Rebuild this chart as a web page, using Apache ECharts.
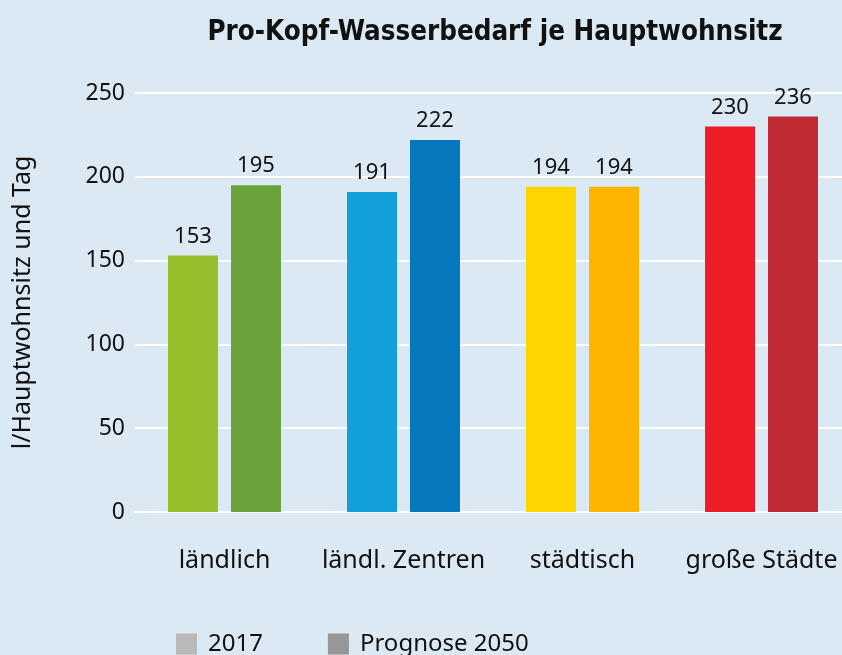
<!DOCTYPE html>
<html>
<head>
<meta charset="utf-8">
<script src="https://cdn.jsdelivr.net/npm/echarts@6/dist/echarts.min.js"></script>
<style>
  html, body { margin: 0; padding: 0; background: #dae9f4; }
  #chart { width: 842px; height: 655px; }
</style>
</head>
<body>
<div id="chart"></div>
<script>
// data
const categories = ['ländlich', 'ländl. Zentren', 'städtisch', 'große Städte'];
const values2017 = [153, 191, 194, 230];
const values2050 = [195, 222, 194, 236];
const colors2017 = ['#95bf2b', '#12a0da', '#ffd500', '#ec1c28'];
const colors2050 = ['#6ca23a', '#0777be', '#ffb400', '#c02a32'];
const yTicks = [0, 50, 100, 150, 200, 250];

const font = 'Noto Sans';
const chart = echarts.init(document.getElementById('chart'));

const barLabel = {
    show: true,
    position: 'top',
    distance: 8,
    fontFamily: font,
    fontSize: 22,
    color: '#111'
};

chart.setOption({
    backgroundColor: '#dae9f4',
    animation: false,
    title: {
        text: 'Pro-Kopf-Wasserbedarf je Hauptwohnsitz',
        left: 490,
        textAlign: 'center',
        top: 14,
        textStyle: {
            fontFamily: '"Liberation Sans Narrow", "DejaVu Sans Condensed", sans-serif',
            fontWeight: 'bold',
            fontSize: 27.5,
            color: '#111'
        }
    },
    legend: {
        left: 171,
        top: 627,
        itemWidth: 21,
        itemHeight: 21,
        itemGap: 65,
        icon: 'rect',
        textStyle: { fontFamily: font, fontSize: 24, color: '#111', padding: [0, 0, 0, 6] },
        data: ['2017', 'Prognose 2050']
    },
    grid: {
        left: 135,
        top: 93,
        width: 716,
        height: 419,
        outerBoundsMode: 'none',
        containLabel: false
    },
    xAxis: {
        type: 'category',
        data: categories,
        axisTick: { show: false },
        axisLine: { show: true, lineStyle: { color: '#ffffff', width: 2 } },
        axisLabel: { interval: 0, fontFamily: font, fontSize: 25, color: '#111', margin: 36 }
    },
    yAxis: {
        type: 'value',
        min: yTicks[0],
        max: yTicks[yTicks.length - 1],
        interval: 50,
        name: 'l/Hauptwohnsitz und Tag',
        nameLocation: 'middle',
        nameGap: 100,
        nameTextStyle: { fontFamily: font, fontSize: 25, color: '#111' },
        axisLine: { show: false },
        axisTick: { show: false },
        axisLabel: { fontFamily: font, fontSize: 23, color: '#111', margin: 10 },
        splitLine: { lineStyle: { color: '#ffffff', width: 2 } }
    },
    series: [
        {
            name: '2017',
            type: 'bar',
            barWidth: 50,
            barGap: '26%',
            itemStyle: { color: '#b9b9b9' },
            label: barLabel,
            data: values2017.map((v, i) => ({ value: v, itemStyle: { color: colors2017[i] } }))
        },
        {
            name: 'Prognose 2050',
            type: 'bar',
            barWidth: 50,
            itemStyle: { color: '#979797' },
            label: barLabel,
            data: values2050.map((v, i) => ({ value: v, itemStyle: { color: colors2050[i] } }))
        }
    ]
});
</script>
</body>
</html>
